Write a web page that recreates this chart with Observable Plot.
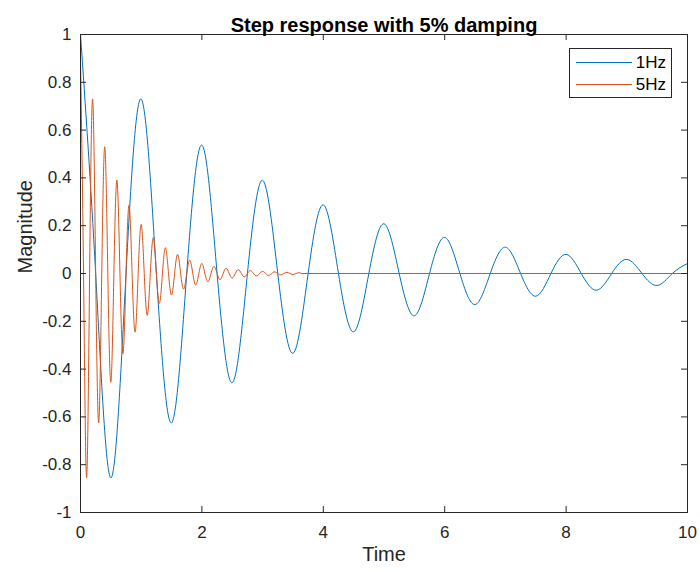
<!DOCTYPE html>
<html>
<head>
<meta charset="utf-8">
<script src="https://cdn.jsdelivr.net/npm/d3@7"></script>
<script src="https://cdn.jsdelivr.net/npm/@observablehq/plot@0.6"></script>
<style>
  html, body { margin: 0; padding: 0; background: #fff; }
  #wrap { position: relative; width: 700px; height: 572px; font-family: "Liberation Sans", Arial, sans-serif; }
  #legend { position: absolute; left: 569px; top: 48px; width: 101px; height: 48px; border: 1px solid #262626; background: #fff; }
</style>
</head>
<body>
<div id="wrap"></div>
<script>
// ---- Data (peaks, troughs and zero crossings) ----
const titleText = "Step response with 5% damping";
const xLabel = "Time";
const yLabel = "Magnitude";
const seriesNames = ["1Hz", "5Hz"];
const seriesColors = ["#0072BD", "#D95319"];

const xTicks = [0, 2, 4, 6, 8, 10];
const yTicks = [-1, -0.8, -0.6, -0.4, -0.2, 0, 0.2, 0.4, 0.6, 0.8, 1];

// 1 Hz response, sampled every quarter period
const hz1Time = [0, 0.25, 0.5, 0.75, 1, 1.25, 1.5, 1.75, 2, 2.25, 2.5, 2.75, 3, 3.25, 3.5, 3.75,
  4, 4.25, 4.5, 4.75, 5, 5.25, 5.5, 5.75, 6, 6.25, 6.5, 6.75, 7, 7.25, 7.5, 7.75,
  8, 8.25, 8.5, 8.75, 9, 9.25, 9.5, 9.75, 10];
const hz1Mag = [1, 0, -0.855, 0, 0.73, 0, -0.625, 0, 0.537, 0, -0.457, 0, 0.39, 0, -0.334, 0,
  0.287, 0, -0.244, 0, 0.208, 0, -0.177, 0, 0.151, 0, -0.13, 0, 0.11, 0, -0.095, 0,
  0.08, 0, -0.07, 0, 0.059, 0, -0.05, 0, 0.042];

// 5 Hz response, sampled every quarter period until it dies out
const hz5Time = [0, 0.05, 0.1, 0.15, 0.2, 0.25, 0.3, 0.35, 0.4, 0.45, 0.5, 0.55, 0.6, 0.65, 0.7, 0.75,
  0.8, 0.85, 0.9, 0.95, 1, 1.05, 1.1, 1.15, 1.2, 1.25, 1.3, 1.35, 1.4, 1.45, 1.5, 1.55,
  1.6, 1.65, 1.7, 1.75, 1.8, 1.85, 1.9, 1.95, 2, 2.05, 2.1, 2.15, 2.2, 2.25, 2.3, 2.35,
  2.4, 2.45, 2.5, 2.55, 2.6, 2.65, 2.7, 2.75, 2.8, 2.85, 2.9, 2.95, 3, 3.05, 3.1, 3.15,
  3.2, 3.25, 3.3, 3.35, 3.4, 3.45, 3.5, 3.55, 3.6, 3.65];
const hz5Mag = [0.9, 0, -0.855, 0, 0.73, 0, -0.625, 0, 0.53, 0, -0.455, 0, 0.39, 0, -0.335, 0,
  0.285, 0, -0.245, 0, 0.205, 0, -0.175, 0, 0.15, 0, -0.125, 0, 0.108, 0, -0.09, 0,
  0.08, 0, -0.065, 0, 0.056, 0, -0.048, 0, 0.042, 0, -0.035, 0, 0.03, 0, -0.026, 0,
  0.022, 0, -0.019, 0, 0.016, 0, -0.014, 0, 0.012, 0, -0.01, 0, 0.009, 0, -0.008, 0,
  0.007, 0, -0.006, 0, 0.005, 0, -0.004, 0, 0.003, 0];
// flat remainder of the 5 Hz response
const hz5TailTime = [3.65, 10];
const hz5TailMag = [0, 0];

// ---- Build tables ----
const rows = (ts, vs) => ts.map((t, i) => ({t, v: vs[i]}));
const hz1 = rows(hz1Time, hz1Mag);
const hz5 = rows(hz5Time, hz5Mag);
const hz5Tail = rows(hz5TailTime, hz5TailMag);

const W = 700, H = 572;
const mL = 80, mR = 13, mT = 34, mB = 60;
const frameW = W - mL - mR, frameH = H - mT - mB;
const tickLen = 6;
const axisColor = "#262626";
const font = "Liberation Sans, Arial, sans-serif";

const chart = Plot.plot({
  width: W, height: H,
  marginLeft: mL, marginRight: mR, marginTop: mT, marginBottom: mB,
  style: {fontFamily: font, background: "#fff", color: axisColor, overflow: "visible"},
  x: {domain: [0, 10]},
  y: {domain: [-1, 1]},
  marks: [
    Plot.line(hz1, {x: "t", y: "v", stroke: seriesColors[0], strokeWidth: 1, curve: "natural"}),
    Plot.line(hz5, {x: "t", y: "v", stroke: seriesColors[1], strokeWidth: 1, curve: "natural"}),
    Plot.line(hz5Tail, {x: "t", y: "v", stroke: seriesColors[1], strokeWidth: 1}),
    // inward ticks on all four sides
    Plot.tickX(xTicks, {x: d => d, stroke: axisColor, insetTop: frameH - tickLen}),
    Plot.tickX(xTicks, {x: d => d, stroke: axisColor, insetBottom: frameH - tickLen}),
    Plot.tickY(yTicks, {y: d => d, stroke: axisColor, insetRight: frameW - tickLen}),
    Plot.tickY(yTicks, {y: d => d, stroke: axisColor, insetLeft: frameW - tickLen}),
    Plot.frame({stroke: axisColor, strokeWidth: 1}),
    Plot.axisX({ticks: xTicks, tickSize: 0, tickPadding: 13, label: null, fontSize: 17, tickFormat: d => String(d)}),
    Plot.axisY({ticks: yTicks, tickSize: 0, tickPadding: 9, label: null, fontSize: 17, tickFormat: d => String(d)}),
    Plot.text([titleText], {frameAnchor: "top", dy: -17, fontWeight: "bold", fontSize: 20, fill: "#000"}),
    Plot.text([xLabel], {frameAnchor: "bottom", dy: 48, fontSize: 20, fill: axisColor}),
    Plot.text([yLabel], {frameAnchor: "left", dx: -55, rotate: -90, fontSize: 20, fill: axisColor})
  ]
});

const wrap = document.getElementById("wrap");
wrap.appendChild(chart);

// legend box (HTML overlay, like MATLAB's legend)
const legend = document.createElement("div");
legend.id = "legend";
const ns = "http://www.w3.org/2000/svg";
const ls = document.createElementNS(ns, "svg");
ls.setAttribute("width", 101);
ls.setAttribute("height", 48);
seriesNames.forEach((name, i) => {
  const y = 13 + i * 22;
  const ln = document.createElementNS(ns, "line");
  ln.setAttribute("x1", 6); ln.setAttribute("x2", 62);
  ln.setAttribute("y1", y + 0.5); ln.setAttribute("y2", y + 0.5);
  ln.setAttribute("stroke", seriesColors[i]);
  ln.setAttribute("stroke-width", 1);
  ls.appendChild(ln);
  const tx = document.createElementNS(ns, "text");
  tx.setAttribute("x", 96);
  tx.setAttribute("y", y + 0.5);
  tx.setAttribute("text-anchor", "end");
  tx.setAttribute("dominant-baseline", "central");
  tx.setAttribute("font-family", font);
  tx.setAttribute("font-size", 17);
  tx.setAttribute("fill", "#000");
  tx.textContent = name;
  ls.appendChild(tx);
});
legend.appendChild(ls);
wrap.appendChild(legend);
</script>
</body>
</html>
